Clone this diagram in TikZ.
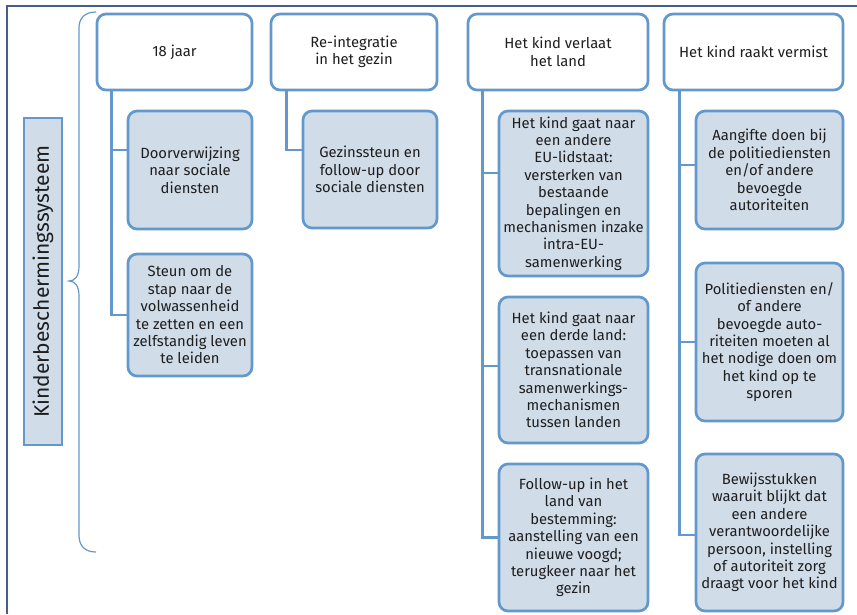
\documentclass[tikz,border=0pt]{standalone}
\usepackage{fontspec}
\setmainfont{Fira Sans}
\usepackage{tikz}
\usetikzlibrary{positioning}
\definecolor{BOX_BLUE}{RGB}{98,152,204}
\definecolor{BOX_FILL}{RGB}{209,220,233}
\definecolor{FRAME_BLUE}{RGB}{66,96,138}
\definecolor{TEXT_GREY}{RGB}{30,30,30}

\begin{document}
\begin{tikzpicture}[x=1pt, y=-1pt,
	headbox/.style={draw=BOX_BLUE, line width=2.7pt, rounded corners=9pt, fill=white,
		align=center, inner sep=1pt, text=TEXT_GREY, font=\fontsize{14.8}{17.4}\selectfont},
	itembox/.style={headbox, fill=BOX_FILL},
	link/.style={draw=BOX_BLUE, line width=2.7pt}]
				\useasboundingbox (0,0) rectangle (857,614);
				% frame
				\draw[FRAME_BLUE, line width=2pt] (7,614) -- (7,6) -- (857,6);
				% side label
				\node[draw=BOX_BLUE, fill=BOX_FILL, line width=2.7pt, rotate=90, minimum width=327, minimum height=38,
					text=TEXT_GREY, font=\fontsize{21}{24}\selectfont] (sys) at (43,281.5) {Kinderbeschermingssysteem};
				\draw[BOX_BLUE, line width=1.2pt] (96,12) .. controls (85,12) and (79,18) .. (79,28) -- (79,266)
					.. controls (79,276) and (75,281) .. (69,281) .. controls (75,281) and (79,286) .. (79,296)
					-- (79,535) .. controls (79,546) and (85,552) .. (96,552);
				% headers
				\node[headbox, minimum width=155, minimum height=76] (h1) at (174.5,52) {18 jaar};
				\node[headbox, minimum width=166, minimum height=76] (h2) at (354,52) {Re-integratie\\in het gezin};
				\node[headbox, minimum width=180, minimum height=76] (h3) at (558,52) {Het kind verlaat\\het land};
				\node[headbox, minimum width=179, minimum height=76] (h4) at (753.5,52) {Het kind raakt vermist};
				% items
				\node[itembox, minimum width=124, minimum height=118] (c11) at (190,170) {Doorverwijzing\\naar sociale\\diensten};
				\node[itembox, minimum width=124, minimum height=122] (c12) at (190,315) {Steun om de\\stap naar de\\volwassenheid\\te zetten en een\\zelfstandig leven\\te leiden};
				\node[itembox, minimum width=134, minimum height=117] (c21) at (370,169.5) {Gezinssteun en\\follow-up door\\sociale diensten};
				\node[itembox, minimum width=149, minimum height=165] (c31) at (573.5,193.5) {Het kind gaat naar\\een andere\\EU-lidstaat:\\versterken van\\bestaande\\bepalingen en\\mechanismen inzake\\intra-EU-\\samenwerking};
				\node[itembox, minimum width=149, minimum height=146] (c32) at (573.5,370) {Het kind gaat naar\\een derde land:\\toepassen van\\transnationale\\samenwerkings-\\mechanismen\\tussen landen};
				\node[itembox, minimum width=149, minimum height=147] (c33) at (573.5,537.5) {Follow-up in het\\land van\\bestemming:\\aanstelling van een\\nieuwe voogd;\\terugkeer naar het\\gezin};
				\node[itembox, minimum width=147, minimum height=118] (c41) at (769.5,170) {Aangifte doen bij\\de politiediensten\\en/of andere\\bevoegde\\autoriteiten};
				\node[itembox, minimum width=147, minimum height=158] (c42) at (769.5,342) {Politiediensten en/\\of andere\\bevoegde auto-\\riteiten moeten al\\het nodige doen om\\het kind op te\\sporen};
				\node[itembox, minimum width=147, minimum height=157] (c43) at (769.5,532.5) {Bewijsstukken\\waaruit blijkt dat\\een andere\\verantwoordelijke\\persoon, instelling\\of autoriteit zorg\\draagt voor het kind};
				% connectors
				\draw[link] ([xshift=16pt]h1.south west) |- ([yshift=20pt]c11.west);
				\draw[link] ([xshift=16pt]h1.south west) |- (c12.west);
				\draw[link] ([xshift=17pt]h2.south west) |- ([yshift=19.5pt]c21.west);
				\draw[link] ([xshift=16pt]h3.south west) |- ([yshift=20.5pt]c31.west);
				\draw[link] ([xshift=16pt]h3.south west) |- ([yshift=4pt]c32.west);
				\draw[link] ([xshift=16pt]h3.south west) |- (c33.west);
				\draw[link] ([xshift=17pt]h4.south west) |- ([yshift=5pt]c41.west);
				\draw[link] ([xshift=17pt]h4.south west) |- (c42.west);
				\draw[link] ([xshift=17pt]h4.south west) |- ([yshift=-2.5pt]c43.west);
			\end{tikzpicture}
\end{document}
